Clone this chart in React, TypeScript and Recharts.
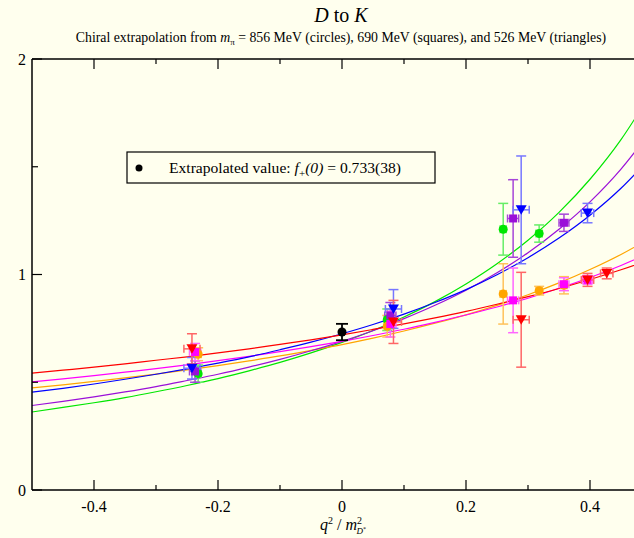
import React from 'react';
import { ComposedChart, Line, Scatter, ErrorBar, XAxis, YAxis } from 'recharts';

// fit curves at q^2/m^2 steps of 0.05
const curveQ = [-0.5, -0.45, -0.4, -0.35, -0.3, -0.25, -0.2, -0.15, -0.1, -0.05, 0, 0.05, 0.1, 0.15, 0.2, 0.25, 0.3, 0.35, 0.4, 0.45, 0.5];
const greenFit = [0.362, 0.383, 0.405, 0.429, 0.456, 0.485, 0.517, 0.553, 0.592, 0.636, 0.685, 0.74, 0.803, 0.874, 0.956, 1.05, 1.159, 1.288, 1.442, 1.626, 1.851];
const purpleFit = [0.392, 0.411, 0.432, 0.455, 0.48, 0.508, 0.537, 0.57, 0.606, 0.646, 0.69, 0.739, 0.795, 0.857, 0.927, 1.008, 1.101, 1.21, 1.337, 1.489, 1.673];
const blueFit = [0.454, 0.472, 0.492, 0.514, 0.537, 0.562, 0.589, 0.618, 0.651, 0.686, 0.725, 0.768, 0.816, 0.87, 0.93, 0.999, 1.078, 1.169, 1.275, 1.4, 1.551];
const orangeFit = [0.474, 0.488, 0.504, 0.52, 0.538, 0.557, 0.577, 0.599, 0.622, 0.648, 0.675, 0.705, 0.738, 0.774, 0.813, 0.857, 0.906, 0.961, 1.023, 1.093, 1.174];
const magentaFit = [0.502, 0.516, 0.531, 0.547, 0.563, 0.581, 0.6, 0.62, 0.642, 0.665, 0.69, 0.717, 0.746, 0.778, 0.812, 0.849, 0.89, 0.936, 0.986, 1.042, 1.104];
const redFit = [0.542, 0.556, 0.57, 0.585, 0.602, 0.618, 0.636, 0.655, 0.676, 0.697, 0.72, 0.745, 0.771, 0.799, 0.829, 0.862, 0.897, 0.935, 0.977, 1.022, 1.072];

// lattice points: circles 856 MeV, squares 690 MeV, triangles 526 MeV
const circleQ = [-0.232, 0.073, 0.26, 0.318, 0.358];
const squareQ = [-0.237, 0.078, 0.276, 0.358, 0.396];
const triangleQ = [-0.242, 0.083, 0.289, 0.396, 0.427];
const circleQErr = [0.005, 0.005, 0.005, 0.005, 0.005];
const squareQErr = [0.009, 0.009, 0.009, 0.008, 0.008];
const triangleQErr = [0.013, 0.013, 0.013, 0.01, 0.01];

const greenVals = [0.54, 0.79, 1.21, 1.19];
const greenErr = [0.04, 0.05, 0.12, 0.04];
const orangeVals = [0.63, 0.76, 0.91, 0.925, 0.95];
const orangeErr = [0.03, 0.05, 0.14, 0.02, 0.04];
const purpleVals = [0.55, 0.81, 1.26, 1.24];
const purpleErr = [0.05, 0.06, 0.18, 0.04];
const magentaVals = [0.64, 0.77, 0.88, 0.955, 0.975];
const magentaErr = [0.04, 0.06, 0.15, 0.03, 0.02];
const blueVals = [0.565, 0.84, 1.3, 1.285];
const blueErr = [0.05, 0.09, 0.25, 0.045];
const redVals = [0.655, 0.78, 0.79, 0.975, 1.005];
const redErr = [0.07, 0.1, 0.22, 0.03, 0.025];

const extrapQ = [0];
const extrapVals = [0.733];
const extrapErr = [0.038];

const xMajorTicks = [-0.4, -0.2, 0, 0.2, 0.4];
const xMinorTicks = [-0.3, -0.1, 0.1, 0.3];
const xTickLabels = ['-0.4', '-0.2', '0', '0.2', '0.4'];
const yMajorTicks = [0, 1, 2];
const yMinorTicks = [0.5, 1.5];
const yTickLabels = ['0', '1', '2'];

const FONT = '"Liberation Serif", "Times New Roman", serif';
const BG = '#ffffee';

const curve = (ys: number[]) => curveQ.map((x, i) => ({ x, y: ys[i] }));
const points = (qs: number[], vals: number[], errs: number[], qErrs: number[]) =>
  vals.map((y, i) => ({ x: qs[i], y, ey: errs[i], ex: qErrs[i] }));

const circle = (color: string) => (p: any) => <circle cx={p.cx} cy={p.cy} r={4.5} fill={color} />;
const square = (color: string) => (p: any) => <rect x={p.cx - 4} y={p.cy - 4} width={8} height={8} fill={color} />;
const triangle = (color: string) => (p: any) => (
  <polygon points={`${p.cx - 5.5},${p.cy - 4.5} ${p.cx + 5.5},${p.cy - 4.5} ${p.cx},${p.cy + 5}`} fill={color} />
);

const isMajorX = (v: number) => xMajorTicks.some((t) => Math.abs(t - v) < 1e-6);
const isMajorY = (v: number) => yMajorTicks.some((t) => Math.abs(t - v) < 1e-6);

const BottomTick = (props: any) => {
  const { x, y, payload } = props;
  const idx = xMajorTicks.findIndex((t) => Math.abs(t - payload.value) < 1e-6);
  const len = isMajorX(payload.value) ? 10 : 5;
  return (
    <g>
      <line x1={x} x2={x} y1={y} y2={y - len} stroke="#000" strokeWidth={1.2} />
      {idx >= 0 && (
        <text x={x} y={y + 22} textAnchor="middle" fontFamily={FONT} fontSize={16} fill="#000">
          {xTickLabels[idx]}
        </text>
      )}
    </g>
  );
};

const TopTick = (props: any) => {
  const { x, y, payload } = props;
  const len = isMajorX(payload.value) ? 10 : 5;
  return <line x1={x} x2={x} y1={y} y2={y + len} stroke="#000" strokeWidth={1.2} />;
};

const LeftTick = (props: any) => {
  const { x, y, payload } = props;
  const idx = yMajorTicks.findIndex((t) => Math.abs(t - payload.value) < 1e-6);
  const len = isMajorY(payload.value) ? 10 : 6;
  return (
    <g>
      <line x1={x} x2={x + len} y1={y} y2={y} stroke="#000" strokeWidth={1.2} />
      {idx >= 0 && (
        <text x={x - 6} y={y + 5.5} textAnchor="end" fontFamily={FONT} fontSize={16} fill="#000">
          {yTickLabels[idx]}
        </text>
      )}
    </g>
  );
};

const series = [
  { fit: greenFit, color: '#00e600', err: '#66ee66', pts: points(circleQ, greenVals, greenErr, circleQErr), shape: circle },
  { fit: orangeFit, color: '#ffa500', err: '#ffc25a', pts: points(circleQ, orangeVals, orangeErr, circleQErr), shape: circle },
  { fit: purpleFit, color: '#9a10d8', err: '#a646d8', pts: points(squareQ, purpleVals, purpleErr, squareQErr), shape: square },
  { fit: magentaFit, color: '#ff00ff', err: '#ff66ff', pts: points(squareQ, magentaVals, magentaErr, squareQErr), shape: square },
  { fit: blueFit, color: '#0000ff', err: '#7777ff', pts: points(triangleQ, blueVals, blueErr, triangleQErr), shape: triangle },
  { fit: redFit, color: '#ff0000', err: '#ff6666', pts: points(triangleQ, redVals, redErr, triangleQErr), shape: triangle },
];

const extrapPoint = points(extrapQ, extrapVals, extrapErr, [0]);

export default function App() {
  const xTicks = [...xMajorTicks, ...xMinorTicks].sort((a, b) => a - b);
  const yTicks = [...yMajorTicks, ...yMinorTicks].sort((a, b) => a - b);
  return (
    <div style={{ position: 'absolute', left: 0, top: 0, width: 634, height: 538, overflow: 'hidden', background: BG }}>
      <ComposedChart width={680} height={538} margin={{ top: 58, right: 28, bottom: 18, left: 0 }}>
        <XAxis
          type="number"
          dataKey="x"
          domain={[-0.5, 0.5]}
          allowDataOverflow
          ticks={xTicks}
          interval={0}
          tickLine={false}
          tickSize={0}
          tickMargin={0}
          height={30}
          axisLine={{ stroke: '#000', strokeWidth: 1.5 }}
          tick={BottomTick}
        />
        <XAxis
          xAxisId="top"
          orientation="top"
          type="number"
          dataKey="x"
          domain={[-0.5, 0.5]}
          allowDataOverflow
          ticks={xTicks}
          interval={0}
          tickLine={false}
          tickSize={0}
          tickMargin={0}
          height={1}
          axisLine={{ stroke: '#000', strokeWidth: 1.5 }}
          tick={TopTick}
        />
        <YAxis
          type="number"
          domain={[0, 2]}
          allowDataOverflow
          ticks={yTicks}
          interval={0}
          tickLine={false}
          tickSize={0}
          tickMargin={0}
          width={32}
          axisLine={{ stroke: '#000', strokeWidth: 1.5 }}
          tick={LeftTick}
        />
        {series.map((s, i) => (
          <Line
            key={`fit-${i}`}
            data={curve(s.fit)}
            dataKey="y"
            type="monotone"
            stroke={s.color}
            strokeWidth={1.2}
            dot={false}
            activeDot={false}
            isAnimationActive={false}
          />
        ))}
        {series.map((s, i) => (
          <Scatter key={`pts-${i}`} data={s.pts} dataKey="y" shape={s.shape(s.color)} isAnimationActive={false}>
            <ErrorBar dataKey="ey" direction="y" width={5} stroke={s.err} strokeWidth={1.5} />
            <ErrorBar dataKey="ex" direction="x" width={4} stroke={s.err} strokeWidth={1.5} />
          </Scatter>
        ))}
        <Scatter data={extrapPoint} dataKey="y" shape={circle('#000')} isAnimationActive={false}>
          <ErrorBar dataKey="ey" direction="y" width={6} stroke="#000" strokeWidth={1.8} />
        </Scatter>
      </ComposedChart>
      <svg width={634} height={538} style={{ position: 'absolute', left: 0, top: 0, pointerEvents: 'none' }} fontFamily={FONT}>
        <text x={341} y={22} textAnchor="middle" fontSize={20} fill="#000">
          <tspan fontStyle="italic">D</tspan> to <tspan fontStyle="italic">K</tspan>
        </text>
        <text x={341} y={42} textAnchor="middle" fontSize={13.8} fill="#000">
          Chiral extrapolation from <tspan fontStyle="italic">m</tspan>
          <tspan dy={3} fontSize={9}>π</tspan>
          <tspan dy={-3}> = 856 MeV (circles), 690 MeV (squares), and 526 MeV (triangles)</tspan>
        </text>
        <rect x={127} y={152} width={308} height={31} fill={BG} stroke="#000" strokeWidth={1.2} />
        <circle cx={139} cy={168} r={3.5} fill="#000" />
        <text x={169} y={173} fontSize={15.6} fill="#000">
          Extrapolated value: <tspan fontStyle="italic">f</tspan>
          <tspan dy={4} fontSize={11}>+</tspan>
          <tspan dy={-4} fontStyle="italic">(0)</tspan> = 0.733(38)
        </text>
        <text x={343} y={530} textAnchor="middle" fontSize={16} fill="#000">
          <tspan fontStyle="italic">q</tspan>
          <tspan dy={-6} fontSize={10}>2</tspan>
          <tspan dy={6}> / </tspan>
          <tspan fontStyle="italic">m</tspan>
          <tspan dy={-6} fontSize={10}>2</tspan>
          <tspan dx={-5.5} dy={10} fontSize={9} fontStyle="italic">D</tspan>
          <tspan dy={-3} fontSize={6}>*</tspan>
        </text>
      </svg>
    </div>
  );
}
